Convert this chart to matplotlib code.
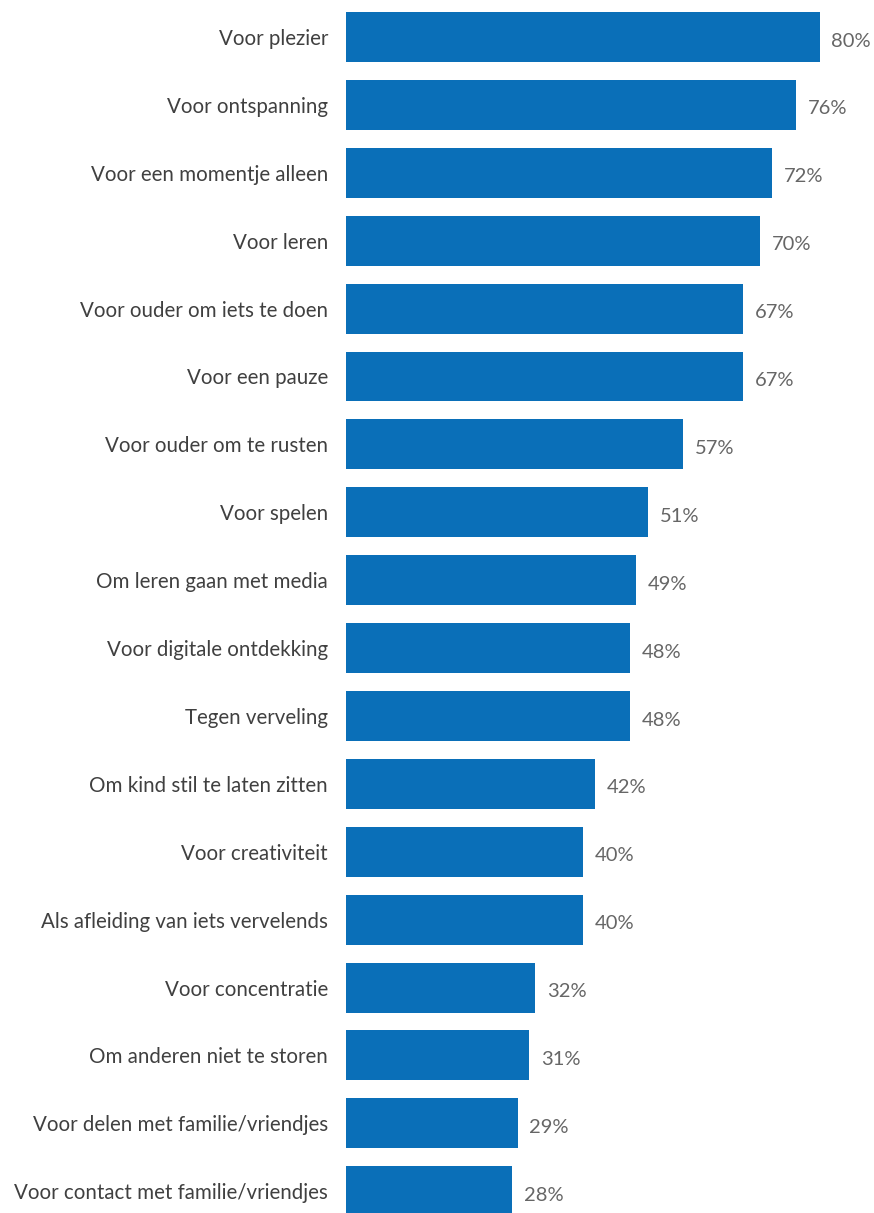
import matplotlib
matplotlib.use("Agg")
import matplotlib.pyplot as plt

# ------ data ------
categories = [
    "Voor plezier",
    "Voor ontspanning",
    "Voor een momentje alleen",
    "Voor leren",
    "Voor ouder om iets te doen",
    "Voor een pauze",
    "Voor ouder om te rusten",
    "Voor spelen",
    "Om leren gaan met media",
    "Voor digitale ontdekking",
    "Tegen verveling",
    "Om kind stil te laten zitten",
    "Voor creativiteit",
    "Als afleiding van iets vervelends",
    "Voor concentratie",
    "Om anderen niet te storen",
    "Voor delen met familie/vriendjes",
    "Voor contact met familie/vriendjes",
]
values = [80, 76, 72, 70, 67, 67, 57, 51, 49, 48, 48, 42, 40, 40, 32, 31, 29, 28]

bar_color = "#0A6FB8"
label_color = "#404040"
value_color = "#666666"

plt.rcParams['font.family'] = ['Lato', 'DejaVu Sans']

fig = plt.figure(figsize=(8.74, 12.13), dpi=100)
ax = fig.add_axes([346 / 874, 0, 528 / 874, 1])

pos = list(range(len(categories)))
ax.barh(pos, values, height=0.736, color=bar_color)

for p, v in zip(pos, values):
    ax.text(v + 2.0, p + 0.06, f"{v}%", va="center", ha="left",
            fontsize=14.5, color=value_color)

ax.set_yticks(pos)
ax.set_yticklabels(categories, fontsize=14.8, color=label_color)
ax.tick_params(axis="y", length=0, pad=13)
ax.set_xticks([])
ax.set_xlim(0, 89.2)
ax.set_ylim(17.32, -0.545)
for s in ax.spines.values():
    s.set_visible(False)

fig.savefig("out.png", dpi=100)
